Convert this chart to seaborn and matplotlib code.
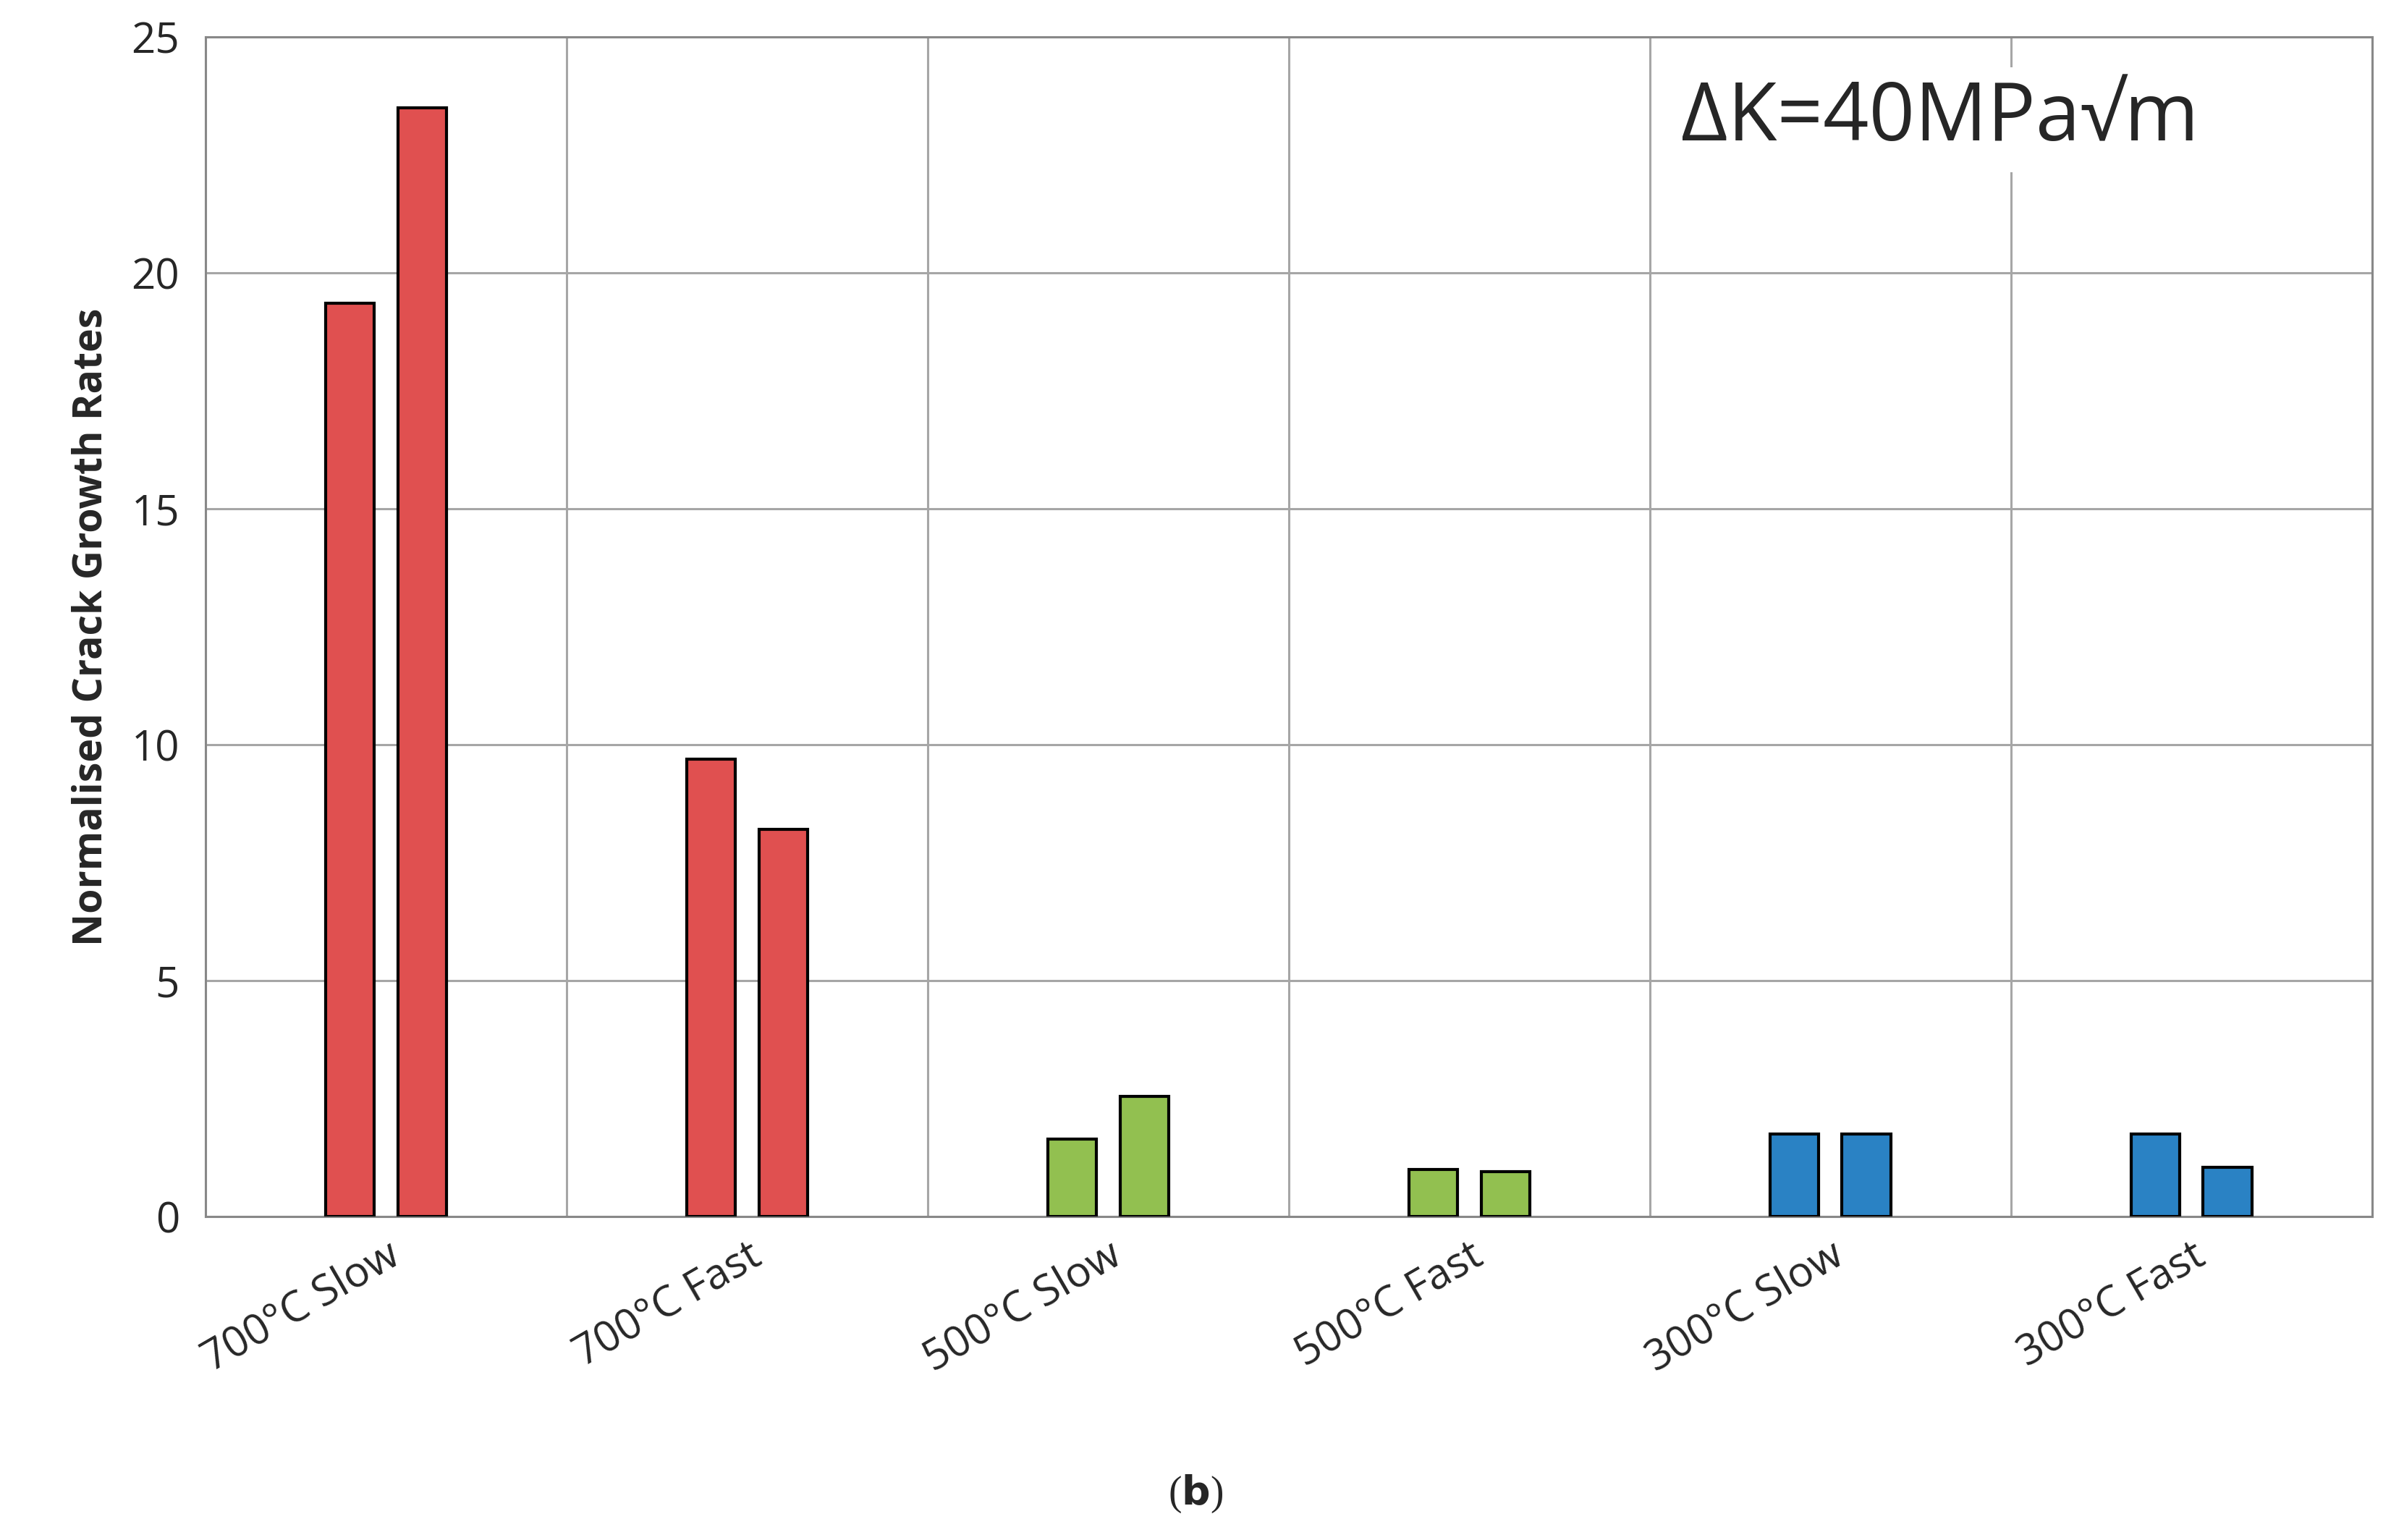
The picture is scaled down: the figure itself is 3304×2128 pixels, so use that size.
import numpy as np
import pandas as pd
import seaborn as sns
import matplotlib.pyplot as plt

# ========== 数据 ==========
categories = ['700°C Slow', '700°C Fast', '500°C Slow', '500°C Fast', '300°C Slow', '300°C Fast']
first_vals = [19.35, 9.7, 1.65, 1.0, 1.75, 1.75]
second_vals = [23.5, 8.2, 2.55, 0.95, 1.75, 1.05]
cat_colors = ['#E05050', '#E05050', '#92C050', '#92C050', '#2A82C4', '#2A82C4']

df = pd.DataFrame({
    'cat': categories * 2,
    'rep': ['a'] * 6 + ['b'] * 6,
    'val': first_vals + second_vals,
})

sns.set_style('white')
plt.rcParams['font.family'] = ['Open Sans', 'DejaVu Sans']

fig = plt.figure(figsize=(33.04, 21.28), dpi=100)
ax = fig.add_axes([0.086, 0.21, 0.906, 0.766])

sns.barplot(data=df, x='cat', y='val', hue='rep', order=categories,
            width=0.4, gap=0.325, edgecolor='black', linewidth=3,
            legend=False, ax=ax, zorder=3)

# 按类别上色
n = len(categories)
for i, p in enumerate(ax.patches[:2 * n]):
    p.set_facecolor(cat_colors[i % n])

ax.set_xlim(-0.5, n - 0.5)
ax.set_ylim(0, 25)
ax.set_yticks(range(0, 26, 5))
ax.set_xticks(np.arange(-0.5, n, 1.0), minor=True)
ax.grid(True, axis='y', color='#A6A6A6', linewidth=2.2, zorder=0)
ax.grid(True, axis='x', which='minor', color='#A6A6A6', linewidth=2.2, zorder=0)
ax.tick_params(axis='x', which='major', length=0, pad=18)
ax.tick_params(axis='x', which='minor', length=14, width=2.2, color='#888888', direction='out')
ax.tick_params(axis='y', length=14, width=2.2, color='#888888', labelsize=42, pad=12)
ax.set_xticklabels(categories, rotation=30, ha='right', rotation_mode='anchor', fontsize=42)
for s in ax.spines.values():
    s.set_color('#888888')
    s.set_linewidth(2.2)

ax.set_xlabel('')
ax.set_ylabel('Normalised Crack Growth Rates', fontsize=40, fontweight='bold', labelpad=20)

ax.text(0.92, 0.93, 'ΔK=40MPa√m', transform=ax.transAxes, fontsize=80,
        ha='right', va='center', zorder=5,
        bbox=dict(facecolor='white', edgecolor='none', pad=12))

fig.text(0.5, 0.03, '(b)', ha='center', va='center', fontsize=40,
         family=['Liberation Serif', 'DejaVu Serif'])
fig.texts[-1].set_text('(')
fig.text(0.4938, 0.03, '(', ha='center', va='center', fontsize=40,
         family=['Liberation Serif', 'DejaVu Serif']).set_visible(False)
fig.texts[0].set_visible(False)
fig.text(0.5, 0.03, r'($\mathbf{b}$)', ha='center', va='center', fontsize=40,
         family=['Liberation Serif', 'DejaVu Serif'])

fig.savefig('out.png', dpi=100)
plt.close(fig)
